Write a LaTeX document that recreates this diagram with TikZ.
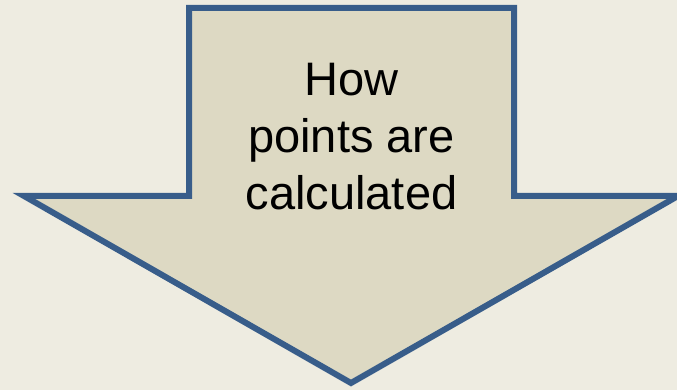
\documentclass[tikz,border=0pt]{standalone}
\usepackage{fontspec}
\setmainfont{Liberation Sans}
\definecolor{bgcol}{HTML}{EEECE1}
\definecolor{fillcol}{HTML}{DDD9C3}
\definecolor{linecol}{HTML}{385D8A}
\tikzset{arrowshape/.style={fill=fillcol, draw=linecol, line width=6pt, line join=miter, miter limit=10}}
\begin{document}
\begin{tikzpicture}[x=1pt,y=-1pt]
\useasboundingbox (0,0) rectangle (677,390);
\fill[bgcol] (0,0) rectangle (677,390);
\begin{scope}
\clip (0,0) rectangle (677,390);
\draw[arrowshape] (189,8) -- (514,8) -- (514,196) -- (678,196) -- (351,383) -- (24,196) -- (189,196) -- cycle;
\end{scope}
\node[align=center, font=\fontsize{47}{57}\selectfont, anchor=base] (label) at (351.5,209) {How\\points are\\calculated};
\end{tikzpicture}
\end{document}
